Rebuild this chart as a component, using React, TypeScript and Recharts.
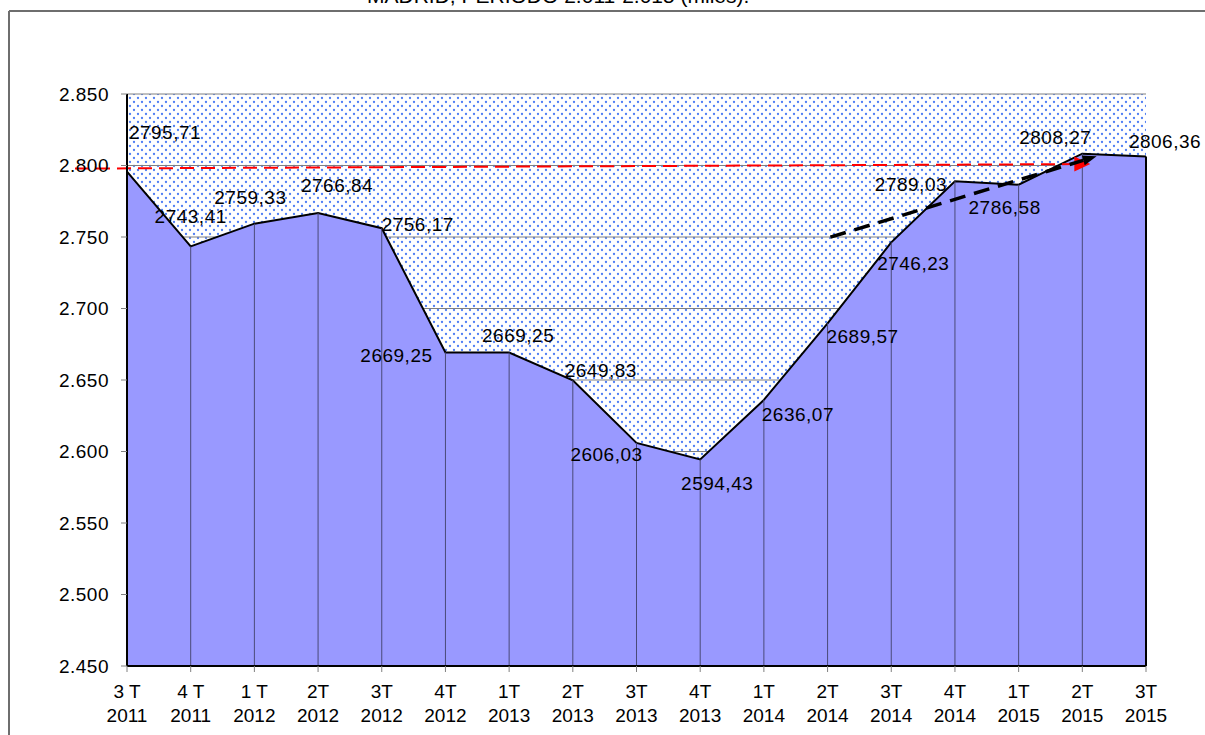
import * as React from "react";
import { AreaChart, Area, XAxis, YAxis, CartesianGrid, ReferenceLine, LabelList } from "recharts";

const QUARTERS = ["3 T", "4 T", "1 T", "2T", "3T", "4T", "1T", "2T", "3T", "4T", "1T", "2T", "3T", "4T", "1T", "2T", "3T"];
const YEARS = ["2011", "2011", "2012", "2012", "2012", "2012", "2013", "2013", "2013", "2013", "2014", "2014", "2014", "2014", "2015", "2015", "2015"];
const VALUES = [
  2795.71, 2743.41, 2759.33, 2766.84, 2756.17, 2669.25, 2669.25, 2649.83, 2606.03,
  2594.43, 2636.07, 2689.57, 2746.23, 2789.03, 2786.58, 2808.27, 2806.36,
];
const Y_TICKS = [2450, 2500, 2550, 2600, 2650, 2700, 2750, 2800, 2850];

// where each value label sits relative to its point (label centre, baseline)
const LABEL_OFFSETS: [number, number][] = [
  [38, -33], [0, -23], [-4, -20], [19, -21], [36, 3], [-49, 10], [9, -10], [28, -3],
  [-30, 18], [17, 31], [34, 21], [35, 20], [22, 28], [-44, 10], [-14, 29], [-27, -10], [19, -8],
];

const FONT = "'Liberation Sans', Arial, sans-serif";

const data = VALUES.map((value, i) => ({ cat: `${QUARTERS[i]}|${YEARS[i]}`, value }));
const cats = data.map((d) => d.cat);

const fmtTick = (v: number) => `${Math.floor(v / 1000)}.${String(v % 1000).padStart(3, "0")}`;
const fmtValue = (v: number) => v.toFixed(2).replace(".", ",");

const QuarterTick = (props: any) => {
  const { x, y, payload } = props;
  const [q, yr] = String(payload.value).split("|");
  return (
    <g fontFamily={FONT} fontSize={19} fill="#000">
      <text x={x} y={y + 24} textAnchor="middle">{q}</text>
      <text x={x} y={y + 48} textAnchor="middle">{yr}</text>
    </g>
  );
};

const ValueLabel = (props: any) => {
  const { x, y, index, value } = props;
  const [dx, dy] = LABEL_OFFSETS[index];
  return (
    <text x={x + dx} y={y + dy} textAnchor="middle" fontFamily={FONT} fontSize={19} letterSpacing={0.5} fill="#000">
      {fmtValue(value)}
    </text>
  );
};

const arrowShape =
  (color: string, width: number, dash: string, extStart: number, extEnd: number, headLen: number, headHalf: number) =>
  (props: any) => {
    const { x1, y1, x2, y2 } = props;
    const ang = Math.atan2(y2 - y1, x2 - x1);
    const c = Math.cos(ang);
    const s = Math.sin(ang);
    const sx = x1 - extStart * c;
    const sy = y1 - extStart * s;
    const tx = x2 + extEnd * c;
    const ty = y2 + extEnd * s;
    const bx = tx - headLen * c;
    const by = ty - headLen * s;
    return (
      <g>
        <line x1={sx} y1={sy} x2={bx} y2={by} stroke={color} strokeWidth={width} strokeDasharray={dash} />
        <polygon
          points={`${tx},${ty} ${bx - headHalf * s},${by + headHalf * c} ${bx + headHalf * s},${by - headHalf * c}`}
          fill={color}
        />
      </g>
    );
  };

export default function App() {
  return (
    <div style={{ position: "fixed", left: 0, top: 0, width: 1205, height: 735, overflow: "hidden", background: "#fff" }}>
      <svg width={1205} height={735} style={{ position: "absolute", left: 0, top: 0 }}>
        <defs>
          <pattern id="dots" width="8" height="8" patternUnits="userSpaceOnUse">
            <rect width="8" height="8" fill="#fff" />
            <circle cx="2" cy="2" r="1.15" fill="#4f7ef4" />
            <circle cx="6" cy="6" r="1.15" fill="#4f7ef4" />
          </pattern>
        </defs>
        <line x1={9} y1={11} x2={1205} y2={11} stroke="#6e6e6e" strokeWidth={2} />
        <line x1={9} y1={11} x2={9} y2={735} stroke="#6e6e6e" strokeWidth={2} />
        <text x={367} y={3} fontFamily={FONT} fontSize={21} fill="#000">
          MADRID, PERIODO 2.011-2.015 (miles).
        </text>
      </svg>
      <div style={{ position: "absolute", left: 0, top: 0, width: 1205, height: 735 }}>
        <AreaChart width={1205} height={735} data={data} margin={{ top: 94, right: 59, bottom: 0, left: 67 }}>
          <CartesianGrid horizontal vertical={false} stroke="#808080" fill="url(#dots)" fillOpacity={1} />
          <XAxis
            dataKey="cat"
            height={69}
            interval={0}
            tick={<QuarterTick />}
            tickSize={6}
            tickMargin={2}
            axisLine={{ stroke: "#000", strokeWidth: 2 }}
            tickLine={{ stroke: "#808080" }}
          />
          <YAxis
            width={60}
            domain={[2450, 2850]}
            ticks={Y_TICKS}
            tickFormatter={fmtTick}
            tickSize={6}
            tickMargin={12}
            tick={{ fontFamily: FONT, fontSize: 19, fill: "#000", letterSpacing: 0.5 }}
            axisLine={{ stroke: "#000", strokeWidth: 2 }}
            tickLine={{ stroke: "#808080" }}
          />
          <Area
            type="linear"
            dataKey="value"
            stroke="#000"
            strokeWidth={2}
            fill="#9999ff"
            fillOpacity={1}
            dot={false}
            activeDot={false}
            isAnimationActive={false}
          />
          {data.map((d, i) => (
            <ReferenceLine
              key={d.cat}
              segment={[
                { x: d.cat, y: 2450 },
                { x: d.cat, y: d.value },
              ]}
              stroke={i === data.length - 1 ? "#000" : "#4a4a78"}
              strokeWidth={i === data.length - 1 ? 2 : 1}
            />
          ))}
          <ReferenceLine
            segment={[
              { x: cats[0], y: 2798 },
              { x: cats[15], y: 2801 },
            ]}
            shape={arrowShape("#ff0000", 2, "14 7", 52, 8, 16, 7.5)}
          />
          <ReferenceLine
            segment={[
              { x: cats[11], y: 2749.3 },
              { x: cats[15], y: 2803.4 },
            ]}
            shape={arrowShape("#000", 3.5, "16 9", -3, 15, 14, 5)}
          />
          <Area
            type="linear"
            dataKey="value"
            stroke="none"
            fill="none"
            dot={false}
            activeDot={false}
            isAnimationActive={false}
          >
            <LabelList dataKey="value" content={<ValueLabel />} />
          </Area>
        </AreaChart>
      </div>
    </div>
  );
}
